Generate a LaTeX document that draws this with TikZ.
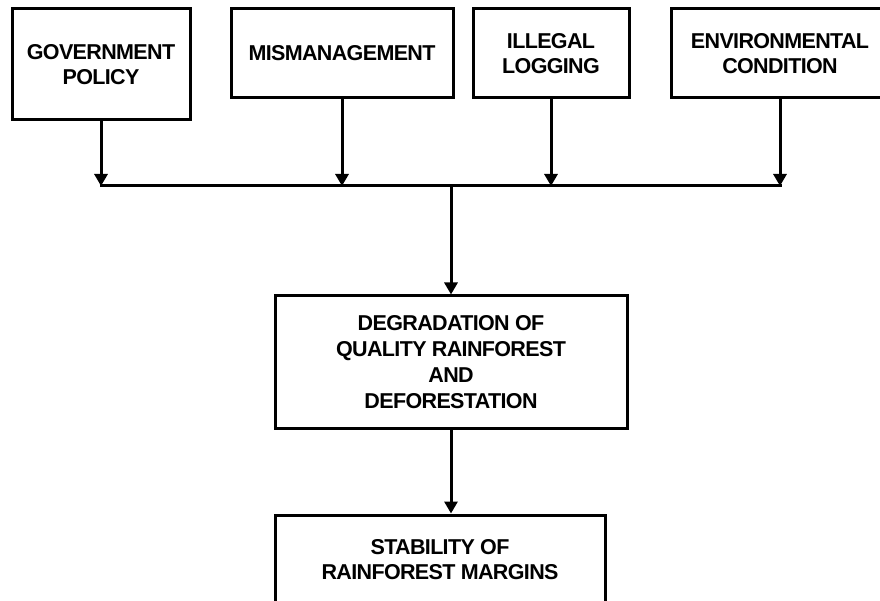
\documentclass[tikz,border=0pt]{standalone}
\usepackage{fontspec}
\setmainfont{Liberation Sans}[LetterSpace=-3]
\usetikzlibrary{arrows.meta}
\tikzset{
  box/.style={draw=black, line width=3pt, fill=white, align=center, inner sep=0pt,
    font=\fontsize{21.5}{25}\selectfont\bfseries},
  arr/.style={line width=3pt, -{Triangle[width=13pt,length=12pt]}},
  bar/.style={line width=3pt}
}
\begin{document}
\begin{tikzpicture}[x=1pt,y=-1pt]
\useasboundingbox (0,0) rectangle (880,601);
\node[box, minimum width=178pt, minimum height=111pt] (b1) at (101,64.5) {GOVERNMENT\\POLICY};
\node[box, minimum width=222pt, minimum height=89pt] (b2) at (342,53.5) {MISMANAGEMENT};
\node[box, minimum width=156pt, minimum height=89pt] (b3) at (551,53.5) {ILLEGAL\\LOGGING};
\node[box, minimum width=218pt, minimum height=89pt] (b4) at (780,53.5) {ENVIRONMENTAL\\CONDITION};
\node[box, minimum width=352pt, minimum height=132pt, font=\fontsize{21.5}{26}\selectfont\bfseries] (degr) at (451,362) {DEGRADATION OF\\QUALITY RAINFOREST\\AND\\DEFORESTATION};
\node[box, minimum width=330pt, minimum height=90pt] (stab) at (440,560) {STABILITY OF\\RAINFOREST MARGINS};
\coordinate (hl) at (0,186);
\coordinate (j1) at (b1.south |- hl);
\coordinate (j4) at (b4.south |- hl);
\draw[bar] ([xshift=-1.5pt]j1) -- ([xshift=1.5pt]j4);
\draw[arr] (b1.south) -- (j1);
\draw[arr] (b2.south) -- (b2.south |- hl);
\draw[arr] (b3.south) -- (b3.south |- hl);
\draw[arr] (b4.south) -- (j4);
\draw[arr] (degr.north |- hl) -- (degr.north);
\draw[arr] (degr.south) -- (degr.south |- stab.north);
\end{tikzpicture}
\end{document}
